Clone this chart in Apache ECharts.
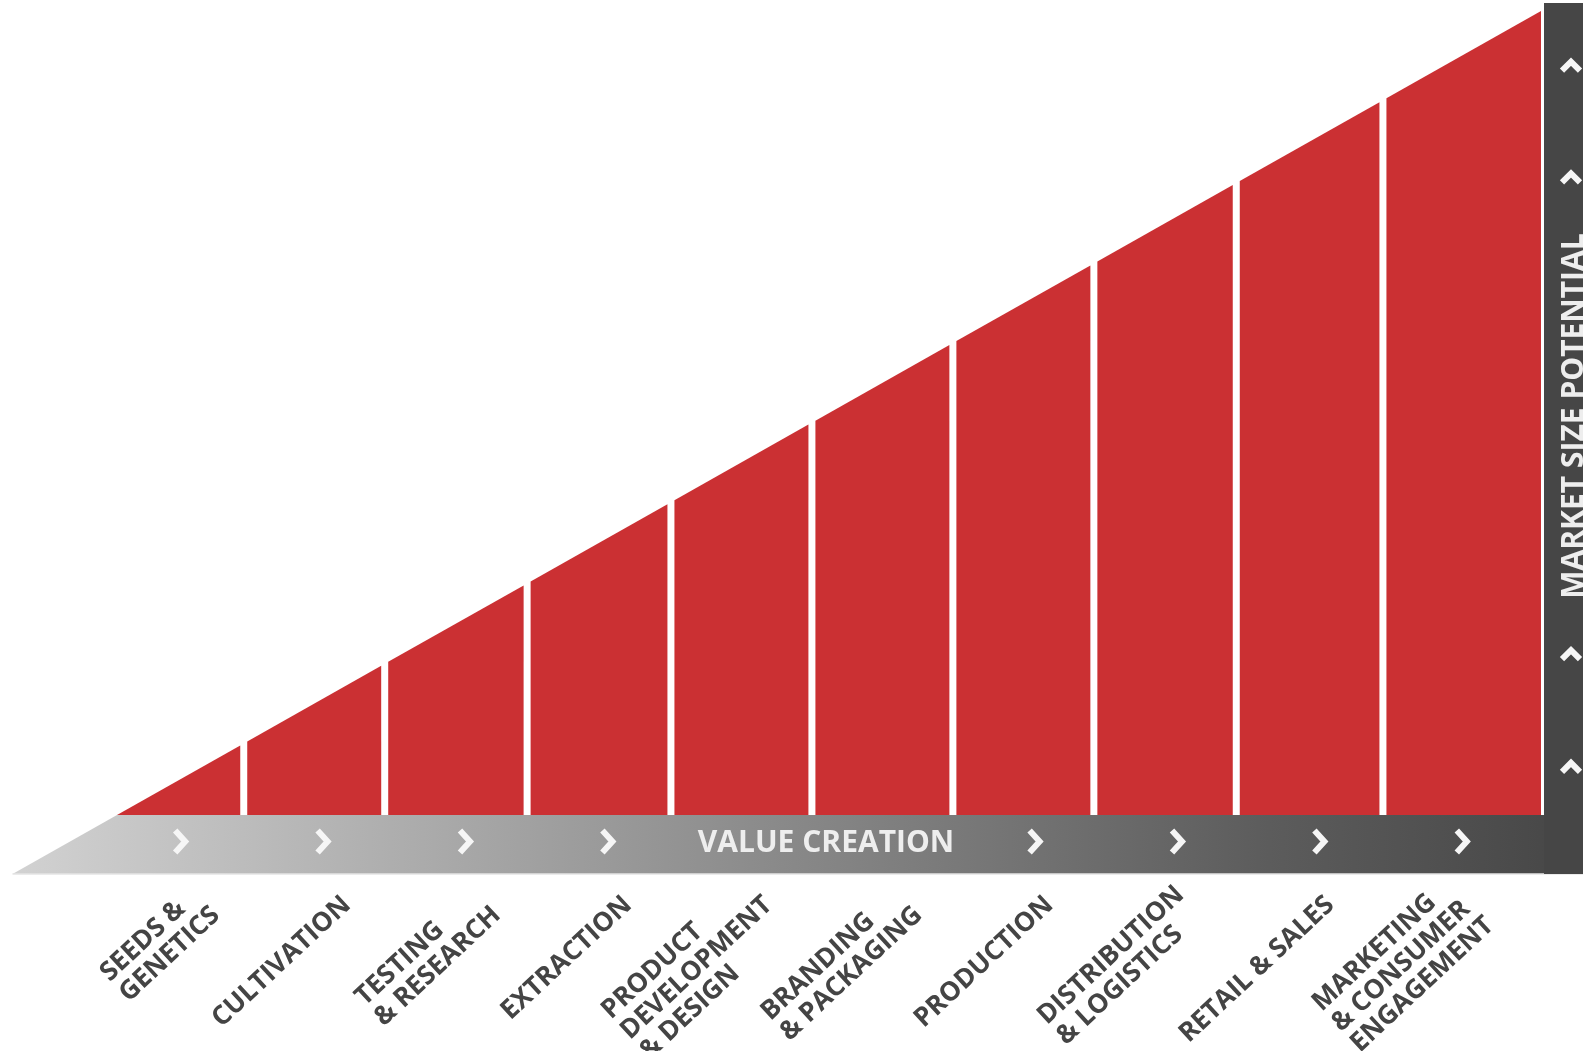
<!DOCTYPE html>
<html><head><meta charset="utf-8">
<script src="https://cdn.jsdelivr.net/npm/echarts@6/dist/echarts.min.js"></script>
<style>html,body{margin:0;padding:0;background:#fff}#chart{width:1583px;height:1051px}</style>
</head><body><div id="chart"></div>
<script>
// ---- data ----
const stages = ['SEEDS &\nGENETICS', 'CULTIVATION', 'TESTING\n& RESEARCH', 'EXTRACTION',
  'PRODUCT\nDEVELOPMENT\n& DESIGN', 'BRANDING\n& PACKAGING', 'PRODUCTION',
  'DISTRIBUTION\n& LOGISTICS', 'RETAIL & SALES', 'MARKETING\n& CONSUMER\nENGAGEMENT'];
// position along the value-creation axis (0-100) where each stage ends
const stageEnd = [8.9, 18.8, 28.8, 38.9, 48.8, 58.7, 68.6, 78.6, 88.9, 100];
// market size potential (0-100) reached at the end of each stage
const marketPotential = [8.9, 18.8, 28.8, 38.9, 48.8, 58.7, 68.6, 78.6, 88.9, 100];
const valueAxisTitle = 'VALUE CREATION';
const marketAxisTitle = 'MARKET SIZE POTENTIAL';
// stages whose centre carries a chevron on the value-creation bar
const chevronStages = [0, 1, 2, 3, 6, 7, 8, 9];
// market-potential levels carrying a chevron on the right bar
const chevronLevels = [93.2, 79.3, 20, 6];

// ---- build series data ----
const stageData = stages.map((s, i) => [
  i === 0 ? 0 : stageEnd[i - 1], stageEnd[i],
  i === 0 ? 0 : marketPotential[i - 1], marketPotential[i], i]);

const chart = echarts.init(document.getElementById('chart'), null, {renderer: 'canvas'});
const RED = '#cb3033';

function renderStage(params, api) {
  const x0 = api.value(0), x1 = api.value(1), p0 = api.value(2), p1 = api.value(3);
  const A = api.coord([x0, 0]), B = api.coord([x1, 0]);
  const At = api.coord([x0, p0]), Bt = api.coord([x1, p1]);
  const gap = 3.5;
  const left = x0 > 0 ? A[0] + gap : A[0];
  const right = x1 < 100 ? B[0] - gap : B[0];
  const topAt = px => At[1] + (Bt[1] - At[1]) * (px - A[0]) / (B[0] - A[0]);
  return {
    type: 'polygon',
    shape: {points: [[left, A[1]], [left, topAt(left)], [right, topAt(right)], [right, B[1]]]},
    style: {fill: RED}
  };
}

function renderFrame(params, api) {
  const W = api.getWidth();
  const tip = api.coord([0, 0]);
  const tr = api.coord([100, 100]);
  const barH = 59;
  const slope = (tip[1] - tr[1]) / (tr[0] - tip[0]);
  const by = tip[1] + barH;
  const blx = tip[0] - barH / slope;
  const children = [];
  children.push({
    type: 'polygon',
    shape: {points: [[blx, by], [tip[0], tip[1]], [W, tip[1]], [W, by]]},
    style: {fill: new echarts.graphic.LinearGradient(0, 0, 1, 0, [
      {offset: 0, color: '#d2d2d2'}, {offset: 0.1, color: '#c3c3c3'},
      {offset: 0.45, color: '#8f8f8f'}, {offset: 0.8, color: '#5c5c5c'}, {offset: 1, color: '#464646'}])}
  });
  children.push({type: 'line', shape: {x1: blx, y1: by, x2: W, y2: by}, style: {stroke: '#e4e4e4', lineWidth: 1.5}});
  const rbx = tr[0] + 3;
  children.push({type: 'rect', shape: {x: rbx, y: 3, width: W - rbx, height: by - 3}, style: {fill: '#464646'}});
  // bottom chevrons
  const cy = tip[1] + barH / 2 - 3;
  chevronStages.forEach(i => {
    const c = api.coord([(i + 0.5) * 10, 0])[0] - 8;
    children.push({type: 'polyline', shape: {points: [[c - 5, cy - 11], [c + 5, cy], [c - 5, cy + 11]]},
      style: {stroke: '#f6f6f6', lineWidth: 6, fill: null, lineJoin: 'miter'}});
  });
  // right chevrons (pointing up)
  const rcx = 1571 * W / 1583;
  chevronLevels.forEach(l => {
    const y = api.coord([0, l])[1];
    children.push({type: 'polyline', shape: {points: [[rcx - 9, y + 5], [rcx, y - 4], [rcx + 9, y + 5]]},
      style: {stroke: '#f6f6f6', lineWidth: 6, fill: null, lineJoin: 'miter'}});
  });
  children.push({type: 'text', x: (tip[0] + tr[0]) / 2 - 3, y: cy + 2,
    style: {text: valueAxisTitle, x: 0, y: 0, align: 'center', verticalAlign: 'middle',
      font: 'bold 30px "Open Sans"', fill: '#eeeeee'}});
  children.push({type: 'text', x: rcx + 3, y: api.coord([0, 50])[1] + 3,
    rotation: Math.PI / 2,
    style: {text: marketAxisTitle, x: 0, y: 0, align: 'center', verticalAlign: 'middle',
      font: 'bold 30px "Open Sans"', fill: '#eeeeee'}});
  return {type: 'group', children};
}

const option = {
  animation: false,
  backgroundColor: '#ffffff',
  grid: [
    {left: 117, right: 42, top: 11, bottom: 236, containLabel: false, outerBoundsMode: 'none'},
    {left: 136, right: 42, top: 11, bottom: 236, containLabel: false, outerBoundsMode: 'none'}
  ],
  xAxis: [
    {type: 'value', gridIndex: 0, min: 0, max: 100, show: false},
    {type: 'category', gridIndex: 1, data: stages,
      axisLine: {show: false}, axisTick: {show: false}, splitLine: {show: false},
      axisLabel: {interval: 0, rotate: 43, margin: 86,
        formatter: v => v.split('\n').map(l => '{a|' + l + '}').join('\n'),
        rich: {a: {align: 'left', fontFamily: 'Open Sans', fontWeight: 'bold', fontSize: 26.5, lineHeight: 28, color: '#444444'}}}}
  ],
  yAxis: [
    {type: 'value', gridIndex: 0, min: 0, max: 100, show: false},
    {type: 'value', gridIndex: 1, min: 0, max: 100, show: false}
  ],
  series: [
    {type: 'custom', name: 'frame', xAxisIndex: 0, yAxisIndex: 0, silent: true, z: 1,
      data: [[0, 0]], renderItem: renderFrame},
    {type: 'custom', name: 'stages', xAxisIndex: 0, yAxisIndex: 0, z: 2,
      data: stageData, encode: {x: [0, 1], y: [2, 3]}, renderItem: renderStage}
  ]
};
chart.setOption(option);
</script></body></html>
